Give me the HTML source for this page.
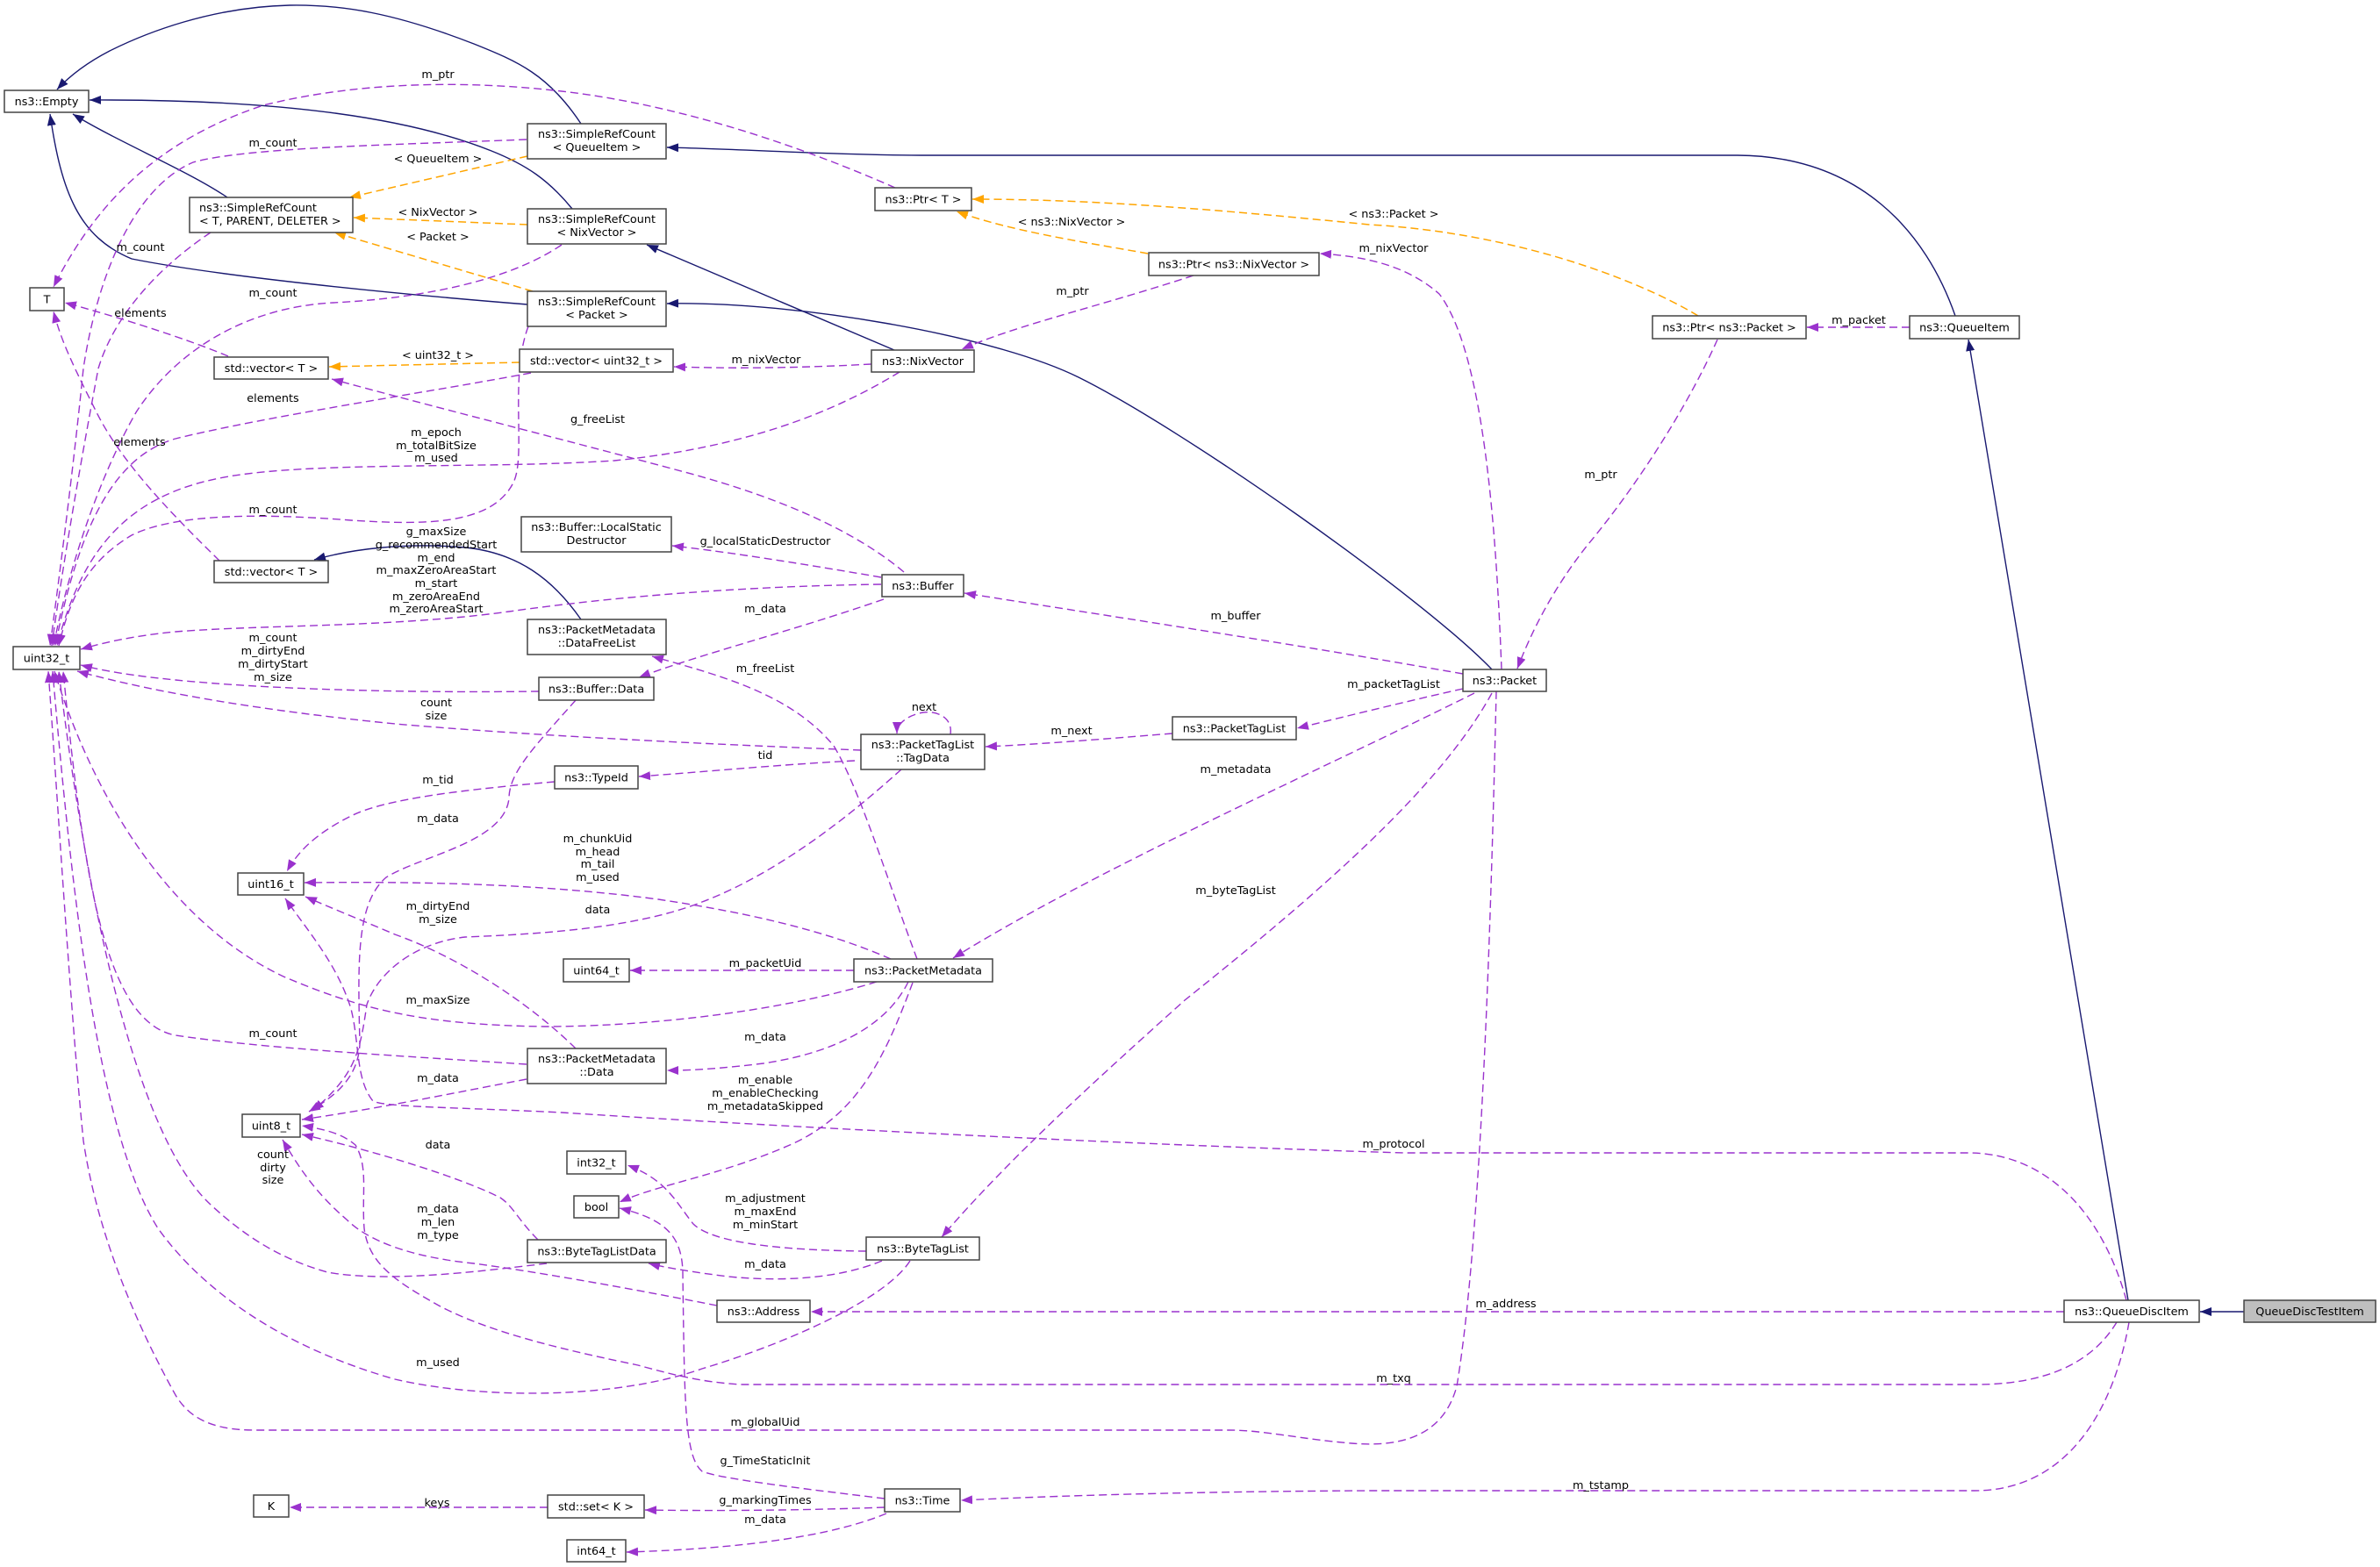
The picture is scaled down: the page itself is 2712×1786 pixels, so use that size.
<!DOCTYPE html>
<html><head><meta charset="utf-8"><style>
html,body{margin:0;padding:0;background:#fff;}
svg{display:block;}
text{font-family:"DejaVu Sans","Liberation Sans",sans-serif;font-size:12.8px;fill:#000;}
.nb rect{fill:#fff;stroke:#444;stroke-width:1.5;}
.nb text{text-anchor:middle;}
.lb text{text-anchor:middle;}
.inh{fill:none;stroke:#191970;stroke-width:1.4;marker-end:url(#an);}
.tpl{fill:none;stroke:#ffa500;stroke-width:1.5;stroke-dasharray:9,5;marker-end:url(#ao);}
.mem{fill:none;stroke:#9a32cd;stroke-width:1.4;stroke-dasharray:9,5;marker-end:url(#ap);}
</style></head><body>
<svg width="2712" height="1786" viewBox="0 0 2712 1786" xmlns="http://www.w3.org/2000/svg">
<defs>
<marker id="an" markerUnits="userSpaceOnUse" markerWidth="14" markerHeight="11" refX="13" refY="5" orient="auto"><path d="M0,0 L13,5 L0,10 z" fill="#191970"/></marker>
<marker id="ao" markerUnits="userSpaceOnUse" markerWidth="14" markerHeight="11" refX="13" refY="5" orient="auto"><path d="M0,0 L13,5 L0,10 z" fill="#ffa500"/></marker>
<marker id="ap" markerUnits="userSpaceOnUse" markerWidth="14" markerHeight="11" refX="13" refY="5" orient="auto"><path d="M0,0 L13,5 L0,10 z" fill="#9a32cd"/></marker>
</defs>
<rect width="2712" height="1786" fill="#fff"/>

<!-- inheritance -->
<path class="inh" d="M 662,141 C 625,85 590,70 540,50 C 450,15 390,5 330,6 C 240,8 165,38 125,58 C 98,72 78,88 65,102"/>
<path class="inh" d="M 652,238 C 625,205 600,188 560,172 C 470,136 330,113 102,114"/>
<path class="inh" d="M 259,225 C 215,195 135,162 83,130"/>
<path class="inh" d="M 601,347 C 450,335 250,315 150,295 C 90,270 70,220 57,130"/>
<path class="inh" d="M 2228,360 C 2195,265 2120,178 1980,177 L 1060,177 C 950,177 850,170 760,168"/>
<path class="inh" d="M 1019,399 L 737,279"/>
<path class="inh" d="M 1700,763 C 1620,680 1350,490 1229,430 C 1130,381 900,343 760,346"/>
<path class="inh" d="M 2425,1482 L 2243,387"/>
<path class="inh" d="M 2557,1495 L 2507,1495"/>
<path class="inh" d="M 662,706 C 630,660 590,630 530,624 C 460,618 400,626 358,638"/>

<!-- template -->
<path class="tpl" d="M 601,178 L 398,225"/>
<path class="tpl" d="M 601,256 L 403,248"/>
<path class="tpl" d="M 607,332 L 381,265"/>
<path class="tpl" d="M 592,413 L 375,418"/>
<path class="tpl" d="M 1308,289 C 1230,275 1150,263 1090,241"/>
<path class="tpl" d="M 1935,360 C 1860,315 1720,265 1560,256 C 1400,240 1250,227 1108,227"/>

<!-- members -->
<path class="mem" d="M 1020,214 C 920,170 780,120 640,104 C 520,90 400,95 300,120 C 180,160 110,230 61,327"/>
<path class="mem" d="M 600,159 C 450,165 280,168 220,185 C 150,215 110,320 95,420 C 85,520 70,640 57,736"/>
<path class="mem" d="M 240,265 C 180,305 130,360 112,420 C 95,510 72,640 59,736"/>
<path class="mem" d="M 640,279 C 580,320 480,340 380,345 C 280,350 200,400 155,470 C 115,540 80,640 61,736"/>
<path class="mem" d="M 605,425 C 500,445 300,475 200,500 C 130,520 90,600 63,736"/>
<path class="mem" d="M 1025,424 C 950,470 850,510 700,525 C 550,535 350,525 250,545 C 150,565 95,620 65,736"/>
<path class="mem" d="M 602,372 C 580,430 600,520 585,550 C 560,600 480,598 400,593 C 300,585 200,585 150,610 C 100,640 80,680 67,736"/>
<path class="mem" d="M 1004,666 C 850,668 700,680 580,697 C 450,715 300,712 200,720 C 150,725 120,732 92,740"/>
<path class="mem" d="M 614,788 C 450,790 300,785 200,775 C 150,770 120,765 92,758"/>
<path class="mem" d="M 981,855 C 800,848 600,838 450,825 C 300,810 180,790 88,765"/>
<path class="mem" d="M 260,406 C 210,385 130,360 74,345"/>
<path class="mem" d="M 250,639 C 200,590 140,530 110,470 C 85,420 70,390 61,355"/>
<path class="mem" d="M 1030,652 C 980,610 900,570 780,538 C 650,503 480,460 378,432"/>
<path class="mem" d="M 1004,658 C 900,640 820,628 766,622"/>
<path class="mem" d="M 1007,683 C 900,720 800,745 728,772"/>
<path class="mem" d="M 1045,1093 C 1010,1000 980,900 950,850 C 900,790 820,770 743,748"/>
<path class="mem" d="M 1083,837 C 1086,816 1065,810 1052,812 C 1035,815 1022,824 1022,836"/>
<path class="mem" d="M 1336,836 C 1260,842 1190,848 1123,851"/>
<path class="mem" d="M 974,867 C 880,872 800,880 728,885"/>
<path class="mem" d="M 632,891 C 530,900 440,910 400,930 C 360,950 340,970 327,993"/>
<path class="mem" d="M 656,798 C 610,850 580,880 580,910 C 575,960 480,975 440,1000 C 405,1030 408,1100 410,1190 C 408,1230 380,1250 352,1267"/>
<path class="mem" d="M 1015,1093 C 940,1060 850,1040 750,1025 C 600,1005 450,1005 347,1006"/>
<path class="mem" d="M 1027,877 C 990,910 900,990 800,1028 C 720,1060 600,1065 530,1068 C 470,1075 430,1110 418,1145 C 410,1200 405,1225 356,1266"/>
<path class="mem" d="M 999,1119 C 900,1150 750,1170 620,1170 C 480,1168 410,1150 323,1113 C 200,1055 110,920 62,765"/>
<path class="mem" d="M 656,1195 C 600,1140 520,1090 450,1065 C 410,1048 380,1036 348,1022"/>
<path class="mem" d="M 600,1213 C 450,1203 300,1195 200,1180 C 120,1165 95,1000 72,765"/>
<path class="mem" d="M 600,1230 C 520,1245 440,1262 344,1276"/>
<path class="mem" d="M 2423,1482 C 2395,1380 2330,1314 2243,1314 L 1600,1314 C 1300,1305 900,1285 640,1268 C 520,1262 440,1262 425,1255 C 405,1230 410,1190 400,1150 C 385,1100 350,1060 325,1024"/>
<path class="mem" d="M 613,1413 C 590,1390 585,1375 570,1365 C 520,1340 420,1310 344,1293"/>
<path class="mem" d="M 817,1488 C 700,1465 600,1448 540,1440 C 470,1433 420,1415 395,1390 C 360,1360 340,1330 322,1299"/>
<path class="mem" d="M 623,1440 C 540,1450 440,1462 373,1450 C 320,1435 280,1410 240,1373 C 150,1290 95,1000 67,765"/>
<path class="mem" d="M 1037,1437 C 1010,1480 900,1530 800,1560 C 700,1595 550,1595 450,1572 C 320,1535 230,1470 180,1400 C 110,1290 80,1000 60,765"/>
<path class="mem" d="M 1705,788 C 1700,1000 1690,1400 1660,1580 C 1645,1635 1600,1650 1540,1645 C 1480,1640 1440,1630 1400,1630 L 290,1630 C 240,1630 215,1615 200,1590 C 150,1500 110,1400 95,1300 C 80,1150 65,900 55,765"/>
<path class="mem" d="M 2412,1507 C 2380,1560 2320,1578 2251,1578 L 846,1578 C 800,1576 760,1565 727,1556 C 650,1540 560,1520 500,1488 C 450,1460 420,1440 415,1400 C 412,1360 420,1330 405,1305 C 390,1292 370,1287 344,1283"/>
<path class="mem" d="M 987,1426 C 880,1425 810,1415 790,1395 C 770,1370 760,1345 715,1328"/>
<path class="mem" d="M 1040,1120 C 1010,1200 980,1270 900,1305 C 820,1340 750,1350 706,1370"/>
<path class="mem" d="M 1008,1708 C 900,1695 820,1685 800,1677 C 780,1660 780,1600 778,1450 C 777,1410 760,1390 706,1377"/>
<path class="mem" d="M 2352,1495 L 924,1495"/>
<path class="mem" d="M 2426,1507 C 2410,1600 2360,1699 2250,1699 L 1560,1699 C 1350,1700 1200,1705 1095,1710"/>
<path class="mem" d="M 1008,1718 C 900,1722 800,1722 735,1721"/>
<path class="mem" d="M 1010,1725 C 950,1750 850,1765 714,1769"/>
<path class="mem" d="M 624,1718 L 330,1718"/>
<path class="mem" d="M 1005,1437 C 950,1460 880,1460 830,1455 C 790,1450 760,1445 739,1440"/>
<path class="mem" d="M 1700,790 C 1640,900 1500,1020 1350,1140 C 1250,1230 1150,1320 1073,1410"/>
<path class="mem" d="M 1680,790 C 1500,880 1250,990 1086,1092"/>
<path class="mem" d="M 1667,785 C 1600,800 1540,815 1478,830"/>
<path class="mem" d="M 1667,768 C 1450,730 1250,700 1099,676"/>
<path class="mem" d="M 1711,763 C 1705,600 1690,400 1640,335 C 1600,300 1550,292 1504,289"/>
<path class="mem" d="M 2176,373 L 2059,373"/>
<path class="mem" d="M 1957,387 C 1920,470 1860,560 1810,620 C 1770,670 1745,720 1729,762"/>
<path class="mem" d="M 1360,314 C 1250,350 1160,370 1096,398"/>
<path class="mem" d="M 993,415 C 900,420 830,420 768,418"/>
<path class="mem" d="M 973,1106 L 718,1106"/>
<path class="mem" d="M 1035,1119 C 1010,1170 950,1200 870,1212 C 820,1218 790,1220 760,1220"/>

<!-- edge labels -->
<g class="lb">
<text x="499" y="89">m_ptr</text>
<text x="311" y="167">m_count</text>
<text x="499" y="185">&lt; QueueItem &gt;</text>
<text x="499" y="246">&lt; NixVector &gt;</text>
<text x="499" y="274">&lt; Packet &gt;</text>
<text x="160" y="286">m_count</text>
<text x="311" y="338">m_count</text>
<text x="160" y="361">elements</text>
<text x="499" y="409">&lt; uint32_t &gt;</text>
<text x="311" y="458">elements</text>
<text x="681" y="482">g_freeList</text>
<text x="159" y="508">elements</text>
<text x="497" y="497">m_epoch</text>
<text x="497" y="512">m_totalBitSize</text>
<text x="497" y="526">m_used</text>
<text x="311" y="585">m_count</text>
<text x="497" y="610">g_maxSize</text>
<text x="497" y="625">g_recommendedStart</text>
<text x="497" y="640">m_end</text>
<text x="497" y="654">m_maxZeroAreaStart</text>
<text x="497" y="669">m_start</text>
<text x="497" y="684">m_zeroAreaEnd</text>
<text x="497" y="698">m_zeroAreaStart</text>
<text x="311" y="731">m_count</text>
<text x="311" y="746">m_dirtyEnd</text>
<text x="311" y="761">m_dirtyStart</text>
<text x="311" y="776">m_size</text>
<text x="497" y="805">count</text>
<text x="497" y="820">size</text>
<text x="872" y="621">g_localStaticDestructor</text>
<text x="872" y="698">m_data</text>
<text x="1408" y="706">m_buffer</text>
<text x="872" y="766">m_freeList</text>
<text x="1588" y="784">m_packetTagList</text>
<text x="1053" y="810">next</text>
<text x="1221" y="837">m_next</text>
<text x="872" y="865">tid</text>
<text x="1408" y="881">m_metadata</text>
<text x="499" y="893">m_tid</text>
<text x="499" y="937">m_data</text>
<text x="681" y="960">m_chunkUid</text>
<text x="681" y="975">m_head</text>
<text x="681" y="989">m_tail</text>
<text x="681" y="1004">m_used</text>
<text x="1408" y="1019">m_byteTagList</text>
<text x="499" y="1037">m_dirtyEnd</text>
<text x="499" y="1052">m_size</text>
<text x="681" y="1041">data</text>
<text x="872" y="1102">m_packetUid</text>
<text x="499" y="1144">m_maxSize</text>
<text x="311" y="1182">m_count</text>
<text x="872" y="1186">m_data</text>
<text x="499" y="1233">m_data</text>
<text x="872" y="1235">m_enable</text>
<text x="872" y="1250">m_enableChecking</text>
<text x="872" y="1265">m_metadataSkipped</text>
<text x="1588" y="1308">m_protocol</text>
<text x="499" y="1309">data</text>
<text x="311" y="1320">count</text>
<text x="311" y="1335">dirty</text>
<text x="311" y="1349">size</text>
<text x="872" y="1370">m_adjustment</text>
<text x="872" y="1385">m_maxEnd</text>
<text x="872" y="1400">m_minStart</text>
<text x="499" y="1382">m_data</text>
<text x="499" y="1397">m_len</text>
<text x="499" y="1412">m_type</text>
<text x="872" y="1445">m_data</text>
<text x="1716" y="1490">m_address</text>
<text x="499" y="1557">m_used</text>
<text x="1588" y="1575">m_txq</text>
<text x="872" y="1625">m_globalUid</text>
<text x="872" y="1669">g_TimeStaticInit</text>
<text x="1824" y="1697">m_tstamp</text>
<text x="498" y="1717">keys</text>
<text x="872" y="1714">g_markingTimes</text>
<text x="872" y="1736">m_data</text>
<text x="873" y="414">m_nixVector</text>
<text x="1221" y="257">&lt; ns3::NixVector &gt;</text>
<text x="1222" y="336">m_ptr</text>
<text x="1588" y="248">&lt; ns3::Packet &gt;</text>
<text x="1588" y="287">m_nixVector</text>
<text x="1824" y="545">m_ptr</text>
<text x="2118" y="369">m_packet</text>
</g>

<!-- nodes -->
<g class="nb">
<rect x="5" y="103" width="96" height="25"/><text x="53" y="120">ns3::Empty</text>
<rect x="601" y="141" width="158" height="40"/><text x="680" y="157">ns3::SimpleRefCount</text><text x="680" y="172">&lt; QueueItem &gt;</text>
<rect x="216" y="225" width="186" height="40"/><text x="227" y="241" style="text-anchor:start">ns3::SimpleRefCount</text><text x="227" y="256" style="text-anchor:start">&lt; T, PARENT, DELETER &gt;</text>
<rect x="601" y="238" width="158" height="40"/><text x="680" y="254">ns3::SimpleRefCount</text><text x="680" y="269">&lt; NixVector &gt;</text>
<rect x="601" y="332" width="158" height="40"/><text x="680" y="348">ns3::SimpleRefCount</text><text x="680" y="363">&lt; Packet &gt;</text>
<rect x="34" y="328" width="39" height="26"/><text x="53.5" y="345.5">T</text>
<rect x="244" y="407" width="130" height="25"/><text x="309" y="424">std::vector&lt; T &gt;</text>
<rect x="592" y="398" width="175" height="26"/><text x="679.5" y="415.5">std::vector&lt; uint32_t &gt;</text>
<rect x="244" y="639" width="130" height="25"/><text x="309" y="656">std::vector&lt; T &gt;</text>
<rect x="594" y="589" width="171" height="40"/><text x="679.5" y="605">ns3::Buffer::LocalStatic</text><text x="679.5" y="620">Destructor</text>
<rect x="601" y="706" width="158" height="40"/><text x="680" y="722">ns3::PacketMetadata</text><text x="680" y="737">::DataFreeList</text>
<rect x="614" y="772" width="131" height="26"/><text x="679.5" y="789.5">ns3::Buffer::Data</text>
<rect x="15" y="737" width="76" height="26"/><text x="53" y="754.5">uint32_t</text>
<rect x="632" y="873" width="95" height="26"/><text x="679.5" y="890.5">ns3::TypeId</text>
<rect x="271" y="995" width="75" height="25"/><text x="308.5" y="1012">uint16_t</text>
<rect x="642" y="1093" width="75" height="26"/><text x="679.5" y="1110.5">uint64_t</text>
<rect x="601" y="1195" width="158" height="40"/><text x="680" y="1211">ns3::PacketMetadata</text><text x="680" y="1226">::Data</text>
<rect x="276" y="1270" width="66" height="26"/><text x="309" y="1287.5">uint8_t</text>
<rect x="646" y="1312" width="67" height="26"/><text x="679.5" y="1329.5">int32_t</text>
<rect x="654" y="1363" width="51" height="25"/><text x="679.5" y="1380">bool</text>
<rect x="601" y="1413" width="158" height="26"/><text x="680" y="1430.5">ns3::ByteTagListData</text>
<rect x="987" y="1410" width="129" height="26"/><text x="1051.5" y="1427.5">ns3::ByteTagList</text>
<rect x="817" y="1482" width="106" height="25"/><text x="870" y="1499">ns3::Address</text>
<rect x="289" y="1704" width="40" height="25"/><text x="309" y="1721">K</text>
<rect x="624" y="1704" width="110" height="26"/><text x="679" y="1721.5">std::set&lt; K &gt;</text>
<rect x="646" y="1755" width="67" height="25"/><text x="679.5" y="1772">int64_t</text>
<rect x="1008" y="1697" width="86" height="26"/><text x="1051" y="1714.5">ns3::Time</text>
<rect x="997" y="214" width="110" height="26"/><text x="1052" y="231.5">ns3::Ptr&lt; T &gt;</text>
<rect x="1309" y="288" width="194" height="26"/><text x="1406" y="305.5">ns3::Ptr&lt; ns3::NixVector &gt;</text>
<rect x="993" y="399" width="117" height="25"/><text x="1051.5" y="416">ns3::NixVector</text>
<rect x="1005" y="655" width="93" height="25"/><text x="1051.5" y="672">ns3::Buffer</text>
<rect x="981" y="837" width="141" height="40"/><text x="1051.5" y="853">ns3::PacketTagList</text><text x="1051.5" y="868">::TagData</text>
<rect x="1336" y="817" width="141" height="26"/><text x="1406.5" y="834.5">ns3::PacketTagList</text>
<rect x="973" y="1093" width="158" height="26"/><text x="1052" y="1110.5">ns3::PacketMetadata</text>
<rect x="1883" y="360" width="175" height="26"/><text x="1970.5" y="377.5">ns3::Ptr&lt; ns3::Packet &gt;</text>
<rect x="2176" y="360" width="125" height="26"/><text x="2238.5" y="377.5">ns3::QueueItem</text>
<rect x="1667" y="763" width="95" height="25"/><text x="1714.5" y="780">ns3::Packet</text>
<rect x="2352" y="1482" width="154" height="25"/><text x="2429" y="1499">ns3::QueueDiscItem</text>
<rect x="2557" y="1482" width="150" height="25" style="fill:#bfbfbf"/><text x="2632" y="1499">QueueDiscTestItem</text>
</g>
</svg>
</body></html>
